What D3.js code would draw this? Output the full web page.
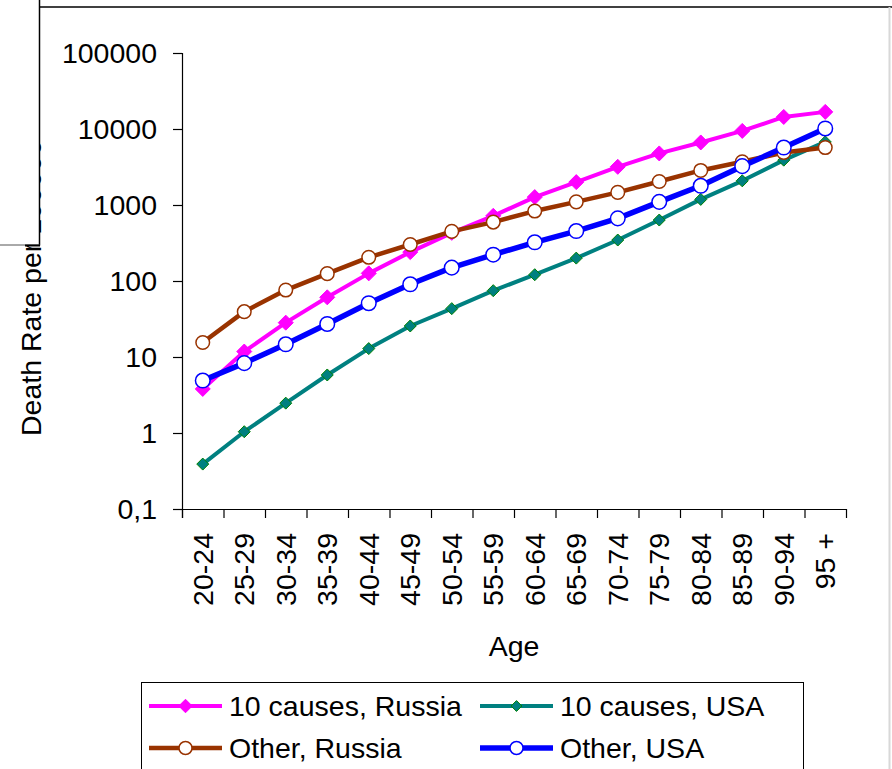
<!DOCTYPE html>
<html>
<head>
<meta charset="utf-8">
<script src="https://cdn.jsdelivr.net/npm/d3@7/dist/d3.min.js"></script>
<style>
  html, body { margin: 0; padding: 0; background: #fff; }
  svg { display: block; font-family: "Liberation Sans", Arial, sans-serif; }
</style>
</head>
<body>
<svg id="chart" width="892" height="769"></svg>
<script>
// Age groups on the x axis
const ageGroups = ["20-24","25-29","30-34","35-39","40-44","45-49","50-54","55-59",
                   "60-64","65-69","70-74","75-79","80-84","85-89","90-94","95 +"];

// Death rates per 100 000, by age group
const tenCausesRussia = [3.8, 11.8, 28.3, 61, 126, 240, 430, 720, 1270, 2000, 3180, 4770, 6650, 9440, 14400, 16800];
const tenCausesUSA    = [0.39, 1.04, 2.47, 5.8, 12.9, 25.6, 43.3, 74.6, 121, 200, 346, 634, 1185, 2080, 3890, 6760];
const otherRussia     = [15.5, 39.5, 76, 125, 205, 302, 450, 596, 832, 1100, 1465, 2040, 2850, 3700, 4910, 5700];
const otherUSA        = [4.9, 8.3, 14.7, 27.2, 51, 90.5, 150, 222, 323, 454, 667, 1100, 1790, 3245, 5700, 10160];

// Logarithmic y ticks
const yTicks = [0.1, 1, 10, 100, 1000, 10000, 100000];
const yTickLabels = ["0,1", "1", "10", "100", "1000", "10000", "100000"];

const seriesNames = ["10 causes, Russia", "10 causes, USA", "Other, Russia", "Other, USA"];

const series = [
  { name: seriesNames[0], values: tenCausesRussia, color: "#FF00FF", width: 4,   marker: "diamond", size: 7.5, fill: "#FF00FF", stroke: "#FF00FF" },
  { name: seriesNames[1], values: tenCausesUSA,    color: "#008080", width: 4,   marker: "diamond", size: 6,   fill: "#008080", stroke: "#008000" },
  { name: seriesNames[2], values: otherRussia,     color: "#993300", width: 4.5, marker: "circle",  size: 6.8, fill: "#FFFFFF", stroke: "#993300" },
  { name: seriesNames[3], values: otherUSA,        color: "#0000FF", width: 5.5, marker: "circle",  size: 7.3, fill: "#FFFFFF", stroke: "#0000FF" }
];

const svg = d3.select("#chart");
const fontSize = 28.5;

const plot = { left: 182, right: 846, top: 53, bottom: 509 };

const x = d3.scaleBand().domain(ageGroups).range([plot.left, plot.right]);
const y = d3.scaleLog().domain([0.1, 100000]).range([plot.bottom, plot.top]);

// Y axis title (partly hidden under the panel drawn afterwards)
svg.append("text")
  .attr("transform", `translate(40.5,436) rotate(-90)`)
  .attr("text-anchor", "start")
  .attr("font-size", fontSize)
  .attr("fill", "#000")
  .text("Death Rate per 100000");

// Panel covering the left top corner
svg.append("rect").attr("x", 0).attr("y", 0).attr("width", 40).attr("height", 245).attr("fill", "#fff");
svg.append("line").attr("x1", 39.5).attr("x2", 39.5).attr("y1", 0).attr("y2", 245.5)
  .attr("stroke", "#000").attr("stroke-width", 1.5);
svg.append("line").attr("x1", 0).attr("x2", 40).attr("y1", 245).attr("y2", 245)
  .attr("stroke", "#555").attr("stroke-width", 1);
svg.append("line").attr("x1", 25).attr("x2", 40).attr("y1", 245.5).attr("y2", 245.5)
  .attr("stroke", "#000").attr("stroke-width", 2);

// Chart area frame
svg.append("line").attr("x1", 39.5).attr("x2", 892).attr("y1", 7).attr("y2", 7)
  .attr("stroke", "#000").attr("stroke-width", 1.5);
svg.append("line").attr("x1", 889.5).attr("x2", 889.5).attr("y1", 7).attr("y2", 769)
  .attr("stroke", "#d8d8d8").attr("stroke-width", 2);

// Y axis
const yAxis = d3.axisLeft(y)
  .tickValues(yTicks)
  .tickFormat((d, i) => yTickLabels[i])
  .tickSize(9)
  .tickPadding(16);

const gy = svg.append("g").attr("transform", `translate(${plot.left},0)`).call(yAxis);
gy.select(".domain").remove();
gy.append("line").attr("x1", 0.5).attr("x2", 0.5).attr("y1", plot.top).attr("y2", plot.bottom + 9)
  .attr("stroke", "#000").attr("stroke-width", 1.2);
gy.selectAll(".tick line").attr("stroke", "#000").attr("stroke-width", 1.2);
gy.selectAll(".tick text").attr("font-size", fontSize).attr("fill", "#000")
  .attr("font-family", "Liberation Sans, Arial, sans-serif");

// X axis
const xAxis = d3.axisBottom(x).tickSize(0).tickFormat(d => d);
const gx = svg.append("g").attr("transform", `translate(0,${plot.bottom})`).call(xAxis);
gx.select(".domain").remove();
gx.append("line").attr("x1", plot.left - 9).attr("x2", plot.right).attr("y1", 0.5).attr("y2", 0.5)
  .attr("stroke", "#000").attr("stroke-width", 1.2);
// Tick marks on the band boundaries
const boundaries = ageGroups.map(d => x(d)).concat([x(ageGroups[ageGroups.length - 1]) + x.bandwidth()]);
gx.selectAll(".bound").data(boundaries).enter().append("line")
  .attr("class", "bound")
  .attr("x1", d => d + 0.5).attr("x2", d => d + 0.5)
  .attr("y1", 0).attr("y2", 9)
  .attr("stroke", "#000").attr("stroke-width", 1.2);
gx.selectAll(".tick text")
  .attr("font-size", fontSize)
  .attr("fill", "#000")
  .attr("font-family", "Liberation Sans, Arial, sans-serif")
  .attr("text-anchor", "end")
  .attr("dy", "0.35em")
  .attr("transform", "translate(0,24) rotate(-90)")
  .attr("x", 0).attr("y", 0);

// X axis title
svg.append("text")
  .attr("x", (plot.left + plot.right) / 2)
  .attr("y", 656)
  .attr("text-anchor", "middle")
  .attr("font-size", fontSize)
  .attr("fill", "#000")
  .text("Age");

// Marker drawing helper
function drawMarker(sel, s) {
  if (s.marker === "diamond") {
    const h = s.size;
    sel.append("path")
      .attr("d", `M0,${-h}L${h},0L0,${h}L${-h},0Z`)
      .attr("fill", s.fill).attr("stroke", s.stroke).attr("stroke-width", 1);
  } else {
    sel.append("circle")
      .attr("r", s.size)
      .attr("fill", s.fill).attr("stroke", s.stroke).attr("stroke-width", 1.5);
  }
}

const cx = d => x(d) + x.bandwidth() / 2;
const line = d3.line().x(d => cx(d.age)).y(d => y(d.v));

series.forEach(s => {
  const pts = ageGroups.map((a, i) => ({ age: a, v: s.values[i] }));
  const g = svg.append("g");
  g.append("path").datum(pts)
    .attr("d", line)
    .attr("fill", "none")
    .attr("stroke", s.color)
    .attr("stroke-width", s.width)
    .attr("stroke-linejoin", "round");
  g.selectAll(".m").data(pts).enter().append("g")
    .attr("transform", d => `translate(${cx(d.age)},${y(d.v)})`)
    .each(function () { drawMarker(d3.select(this), s); });
});

// Legend
const legend = svg.append("g");
legend.append("rect")
  .attr("x", 141.5).attr("y", 682.5).attr("width", 662).attr("height", 100)
  .attr("fill", "#fff").attr("stroke", "#000").attr("stroke-width", 1);

const legendPos = [
  { x: 149, y: 706 }, { x: 480, y: 706 },
  { x: 149, y: 748 }, { x: 480, y: 748 }
];
series.forEach((s, i) => {
  const p = legendPos[i];
  const g = legend.append("g").attr("transform", `translate(${p.x},${p.y})`);
  g.append("line").attr("x1", 0).attr("x2", 73).attr("y1", 0).attr("y2", 0)
    .attr("stroke", s.color).attr("stroke-width", s.width);
  const m = g.append("g").attr("transform", "translate(36.5,0)");
  drawMarker(m, Object.assign({}, s, { size: s.marker === "diamond" ? s.size * 0.9 : 6.5 }));
  g.append("text").attr("x", 80).attr("y", 0).attr("dy", "0.35em")
    .attr("font-size", fontSize).attr("fill", "#000")
    .text(s.name);
});
</script>
</body>
</html>
